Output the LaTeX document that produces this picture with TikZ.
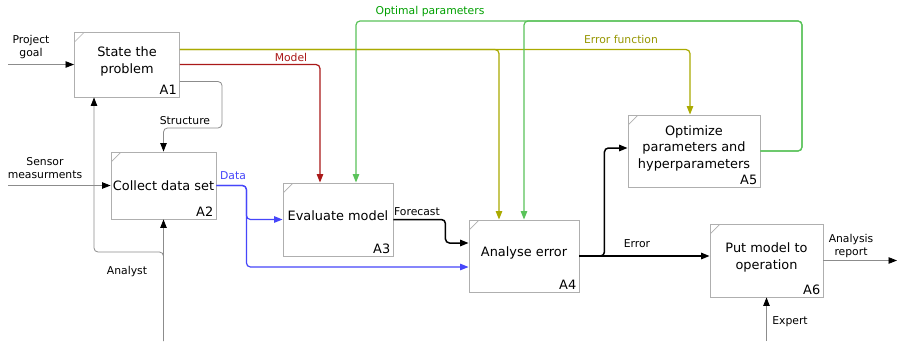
\documentclass[tikz,border=0pt]{standalone}
\usepackage{fontspec}
\setmainfont{DejaVu Sans}
\usetikzlibrary{arrows.meta}

\definecolor{boxgray}{RGB}{175,175,175}
\definecolor{modelred}{RGB}{170,25,25}
\definecolor{errolive}{RGB}{170,170,0}
\definecolor{errtext}{RGB}{150,150,0}
\definecolor{optgreen}{RGB}{90,195,90}
\definecolor{opttext}{RGB}{0,160,0}
\definecolor{datablue}{RGB}{70,70,250}
\definecolor{wiregray}{RGB}{140,140,140}

% an empty last line that lifts the box text a little above centre
\newcommand{\lifttext}{\\[-8pt]\mbox{}}

\tikzset{
  procbox/.style={draw=boxgray, line width=0.9pt, fill=white, rectangle,
    align=center, inner sep=0pt, font=\fontsize{12.9}{16.5}\selectfont,
    path picture={\draw[boxgray, line width=0.7pt]
      ([yshift=-10pt]path picture bounding box.north west) --
      ([xshift=10pt]path picture bounding box.north west);}},
  boxid/.style={anchor=south east, inner sep=3pt, font=\fontsize{12.9}{15}\selectfont},
  flowlbl/.style={font=\fontsize{10.8}{13}\selectfont, align=center, inner sep=0pt},
  ext/.style={draw=wiregray, line width=0.8pt, rounded corners=4pt,
    -{Triangle[length=8.5pt,width=6.5pt,color=black]}},
  flow/.style={line width=1.2pt, rounded corners=4pt,
    -{Triangle[length=8.5pt,width=6.5pt]}},
  redflow/.style={flow, draw=modelred},
  oliveflow/.style={flow, draw=errolive},
  greenflow/.style={flow, draw=optgreen},
  blueflow/.style={flow, draw=datablue},
  blackflow/.style={flow, draw=black, line width=1.5pt},
}

\begin{document}
\begin{tikzpicture}[x=1pt,y=-1pt]
\fill[white] (0,0) rectangle (898,341);
\useasboundingbox (0,0) rectangle (898,341);

% activity boxes
\node[procbox, minimum width=105pt, minimum height=65pt,
  label={[boxid]south east:A1}] (a1) at (127,64.5) {State the\\problem\lifttext};
\node[procbox, minimum width=105pt, minimum height=67pt,
  label={[boxid]south east:A2}] (a2) at (163.5,185.5) {Collect data set};
\node[procbox, minimum width=110pt, minimum height=73pt,
  label={[boxid]south east:A3}] (a3) at (338,219.5) {Evaluate model\lifttext};
\node[procbox, minimum width=110pt, minimum height=72pt,
  label={[boxid]south east:A4}] (a4) at (524,256) {Analyse error\lifttext};
\node[procbox, minimum width=132pt, minimum height=72pt,
  label={[boxid]south east:A5}] (a5) at (694,151) {Optimize\\parameters and\\hyperparameters\lifttext};
\node[procbox, minimum width=113pt, minimum height=73pt,
  label={[boxid]south east:A6}] (a6) at (766.5,260.5) {Put model to\\operation\lifttext};

% free ends and bends
\coordinate (pg) at (8,64.5);
\coordinate (sm) at (8,185.5);
\coordinate (anl) at (163.5,341);
\coordinate (ajoin) at (163.5,252);
\coordinate (sbend) at (222,128);
\coordinate (optc) at (802,21);
\coordinate (expt) at (766.5,341);
\coordinate (rep) at (897,260.5);

% inputs, controls and mechanisms
\draw[ext] (pg) -- (a1.west);
\draw[ext] (sm) -- (a2.west);
\draw[ext] (anl) -- (a2.south);
\draw[ext] (anl) -- (ajoin) -| ([xshift=-33pt]a1.south);
\draw[ext] ([yshift=-17pt]a1.east) -| (sbend) -| (a2.north);
\draw[ext] (expt) -- (a6.south);
\draw[ext] (a6.east) -- (rep);

% internal flows
\draw[oliveflow] ([yshift=15pt]a1.east) -| ([xshift=-25pt]a4.north);
\draw[oliveflow] ([yshift=15pt]a1.east) -| ([xshift=-4pt]a5.north);
\draw[redflow] (a1.east) -| ([xshift=-18pt]a3.north);
\draw[greenflow] (a5.east) -| (optc) -| ([xshift=18pt]a3.north);
\draw[greenflow] (a5.east) -| (optc) -| (a4.north);
\draw[blueflow] (a2.east) -- ([xshift=30pt]a2.east) |- (a3.west);
\draw[blueflow] (a2.east) -- ([xshift=30pt]a2.east) |- ([yshift=-11pt]a4.west);
\draw[blackflow] (a3.east) -- ([xshift=52pt]a3.east) |- ([yshift=13pt]a4.west);
\draw[blackflow] (a4.east) -- (a4.east -| a6.west);
\draw[blackflow] (a4.east) -- ([xshift=25pt]a4.east) |- ([yshift=3pt]a5.west);

% arrow labels
\node[flowlbl] (lpg) at (31,47) {Project\\goal};
\node[flowlbl] (lsm) at (45,168) {Sensor\\measurments};
\node[flowlbl] (lst) at (185,121) {Structure};
\node[flowlbl] (lan) at (127,272) {Analyst};
\node[flowlbl, text=modelred] (lmo) at (291,57) {Model};
\node[flowlbl, text=datablue] (lda) at (233,176) {Data};
\node[flowlbl, text=opttext] (lop) at (430,12) {Optimal parameters};
\node[flowlbl, text=errtext] (lef) at (621,39) {Error function};
\node[flowlbl] (lfc) at (417,212) {Forecast};
\node[flowlbl] (ler) at (637,244) {Error};
\node[flowlbl] (lar) at (851,246) {Analysis\\report};
\node[flowlbl] (lex) at (790,322) {Expert};
\end{tikzpicture}
\end{document}
